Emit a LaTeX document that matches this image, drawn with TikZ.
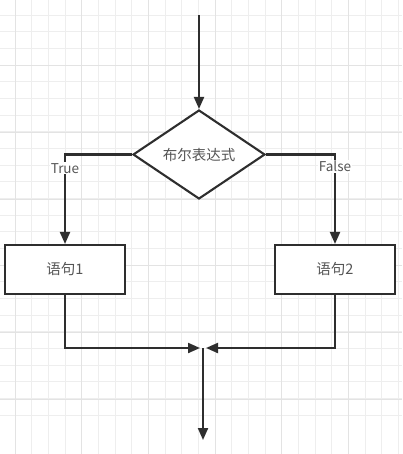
\documentclass[tikz,border=0pt]{standalone}
\usepackage{fontspec}
\setmainfont{Noto Sans CJK SC}
\usetikzlibrary{shapes.geometric,arrows.meta}
\definecolor{gridminor}{HTML}{EEEEEE}
\definecolor{gridmajor}{HTML}{E3E3E3}
\definecolor{lineclr}{HTML}{2E2E2E}
\definecolor{textclr}{HTML}{555555}
\tikzset{
  conn/.style={draw=lineclr,line width=2.1pt,-{Triangle[length=12pt,width=10pt]}},
  decision/.style={diamond,draw=lineclr,line width=2.1pt,fill=white,inner sep=0pt,
    minimum width=132pt,minimum height=89pt,aspect=1.48,text=textclr,font=\fontsize{14.5pt}{16pt}\selectfont},
  stmt/.style={rectangle,draw=lineclr,line width=2.1pt,fill=white,minimum width=120pt,
    minimum height=49pt,text=textclr,font=\fontsize{14.5pt}{16pt}\selectfont},
  lbl/.style={fill=white,inner sep=1pt,text=textclr,font=\fontsize{13.5pt}{16pt}\selectfont}
}
\begin{document}
\begin{tikzpicture}[x=1pt,y=-1pt]
\useasboundingbox (0,0) rectangle (402,454);
\fill[white] (0,0) rectangle (402,454);
\foreach \i in {0,...,24} {
  \draw[gridminor,line width=0.8pt] ({15+16.667*\i},0) -- ({15+16.667*\i},454);
  \draw[gridminor,line width=0.8pt] (0,{15+16.667*\i}) -- (402,{15+16.667*\i});
}
\foreach \i in {0,...,6} {
  \draw[gridmajor,line width=0.9pt] ({15+66.667*\i},0) -- ({15+66.667*\i},454);
  \draw[gridmajor,line width=0.9pt] (0,{-1+66.667*\i}) -- (402,{-1+66.667*\i});
}
\coordinate (start) at (199,15);
\node[decision] (d) at (199,154.5) {布尔表达式};
\node[stmt] (b1) at (65,269.5) {语句1};
\node[stmt] (b2) at (335,269.5) {语句2};
\coordinate (m) at (203,348);
\coordinate (end) at (203,440);
\draw[conn] (start) -- (d.north);
\draw[conn] (d.west) -| node[lbl,pos=0.577] {True} (b1.north);
\draw[conn] (d.east) -| node[lbl,pos=0.566] {False} (b2.north);
\draw[conn,shorten >=3pt] (b1.south) |- (m);
\draw[conn,shorten >=3pt] (b2.south) |- (m);
\draw[conn] (m) -- (end);
\end{tikzpicture}
\end{document}
